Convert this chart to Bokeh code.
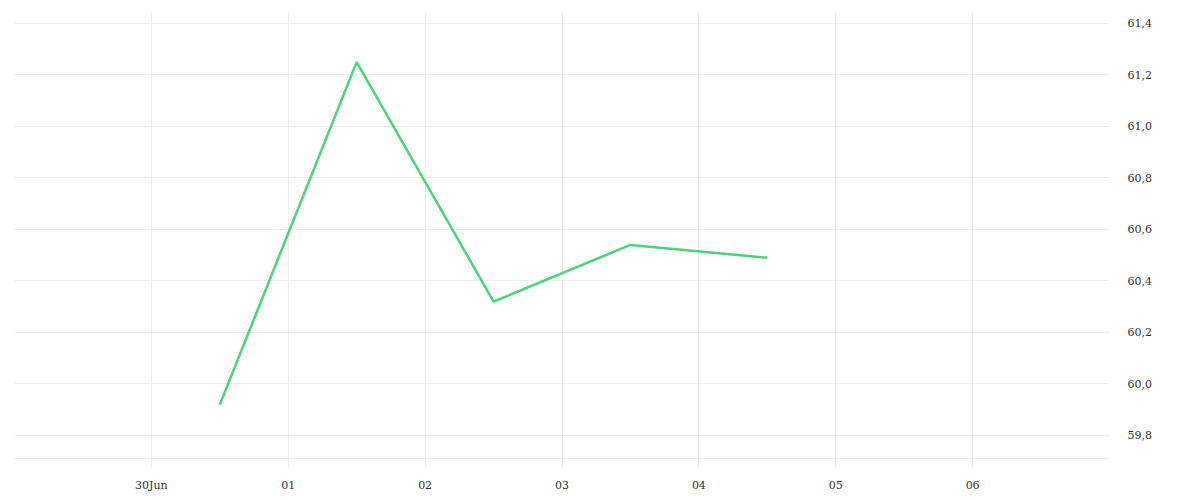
from datetime import datetime
from bokeh.plotting import figure
from bokeh.models import ColumnDataSource, FixedTicker, Range1d
from bokeh.embed import file_html
from bokeh.resources import INLINE

# ---- data ----
dates = ["2023-06-30 12:00", "2023-07-01 12:00", "2023-07-02 12:00",
         "2023-07-03 12:00", "2023-07-04 12:00"]
values = [59.92, 61.25, 60.32, 60.54, 60.49]

tick_days = ["2023-06-30", "2023-07-01", "2023-07-02", "2023-07-03",
             "2023-07-04", "2023-07-05", "2023-07-06"]
tick_labels = ["30Jun", "01", "02", "03", "04", "05", "06"]
y_ticks = [59.8, 60.0, 60.2, 60.4, 60.6, 60.8, 61.0, 61.2, 61.4]
y_labels = ["59,8", "60,0", "60,2", "60,4", "60,6", "60,8", "61,0", "61,2", "61,4"]


def ms(s):
    fmt = "%Y-%m-%d %H:%M" if " " in s else "%Y-%m-%d"
    return (datetime.strptime(s, fmt) - datetime(1970, 1, 1)).total_seconds() * 1000.0


DAY = 86400000.0
xs = [ms(d) for d in dates]
tx = [ms(d) for d in tick_days]
x_start = tx[0] - DAY
x_end = tx[-1] + DAY

y_start = 59.6757
y_end = 61.4427
axis_line_val = 59.7107

src = ColumnDataSource(dict(x=xs, y=values))

p = figure(x_axis_type="datetime", y_axis_location="right",
           frame_width=1095, frame_height=455,
           min_border_left=14, min_border_top=12, min_border_right=74, min_border_bottom=25,
           output_backend="svg", toolbar_location=None,
           x_range=Range1d(x_start, x_end), y_range=Range1d(y_start, y_end))

p.outline_line_color = None
p.background_fill_color = "white"
p.border_fill_color = "white"

p.line("x", "y", source=src, line_color="#4cd47a", line_width=2.5)

# grids
p.xgrid.ticker = FixedTicker(ticks=[x_start] + tx + [x_end])
p.ygrid.ticker = FixedTicker(ticks=[axis_line_val] + y_ticks)
for g in (p.xgrid, p.ygrid):
    g.grid_line_color = "#eeeeee"
    g.grid_line_width = 1

# x axis
xa = p.xaxis[0]
xa.ticker = FixedTicker(ticks=tx)
xa.major_label_overrides = {float(t): lab for t, lab in zip(tx, tick_labels)}
xa.axis_line_color = None
xa.major_tick_line_color = None
xa.minor_tick_line_color = None
xa.major_label_standoff = 5
xa.major_label_text_font = "DejaVu Serif"
xa.major_label_text_font_size = "11px"
xa.major_label_text_color = "#333333"

# y axis
ya = p.yaxis[0]
ya.ticker = FixedTicker(ticks=y_ticks)
ya.major_label_overrides = {float(t): lab for t, lab in zip(y_ticks, y_labels)}
ya.axis_line_color = None
ya.major_tick_line_color = None
ya.minor_tick_line_color = None
ya.major_label_standoff = 12
ya.major_label_text_font = "DejaVu Serif"
ya.major_label_text_font_size = "11px"
ya.major_label_text_color = "#333333"

open("out.html", "w").write(file_html(p, INLINE))
